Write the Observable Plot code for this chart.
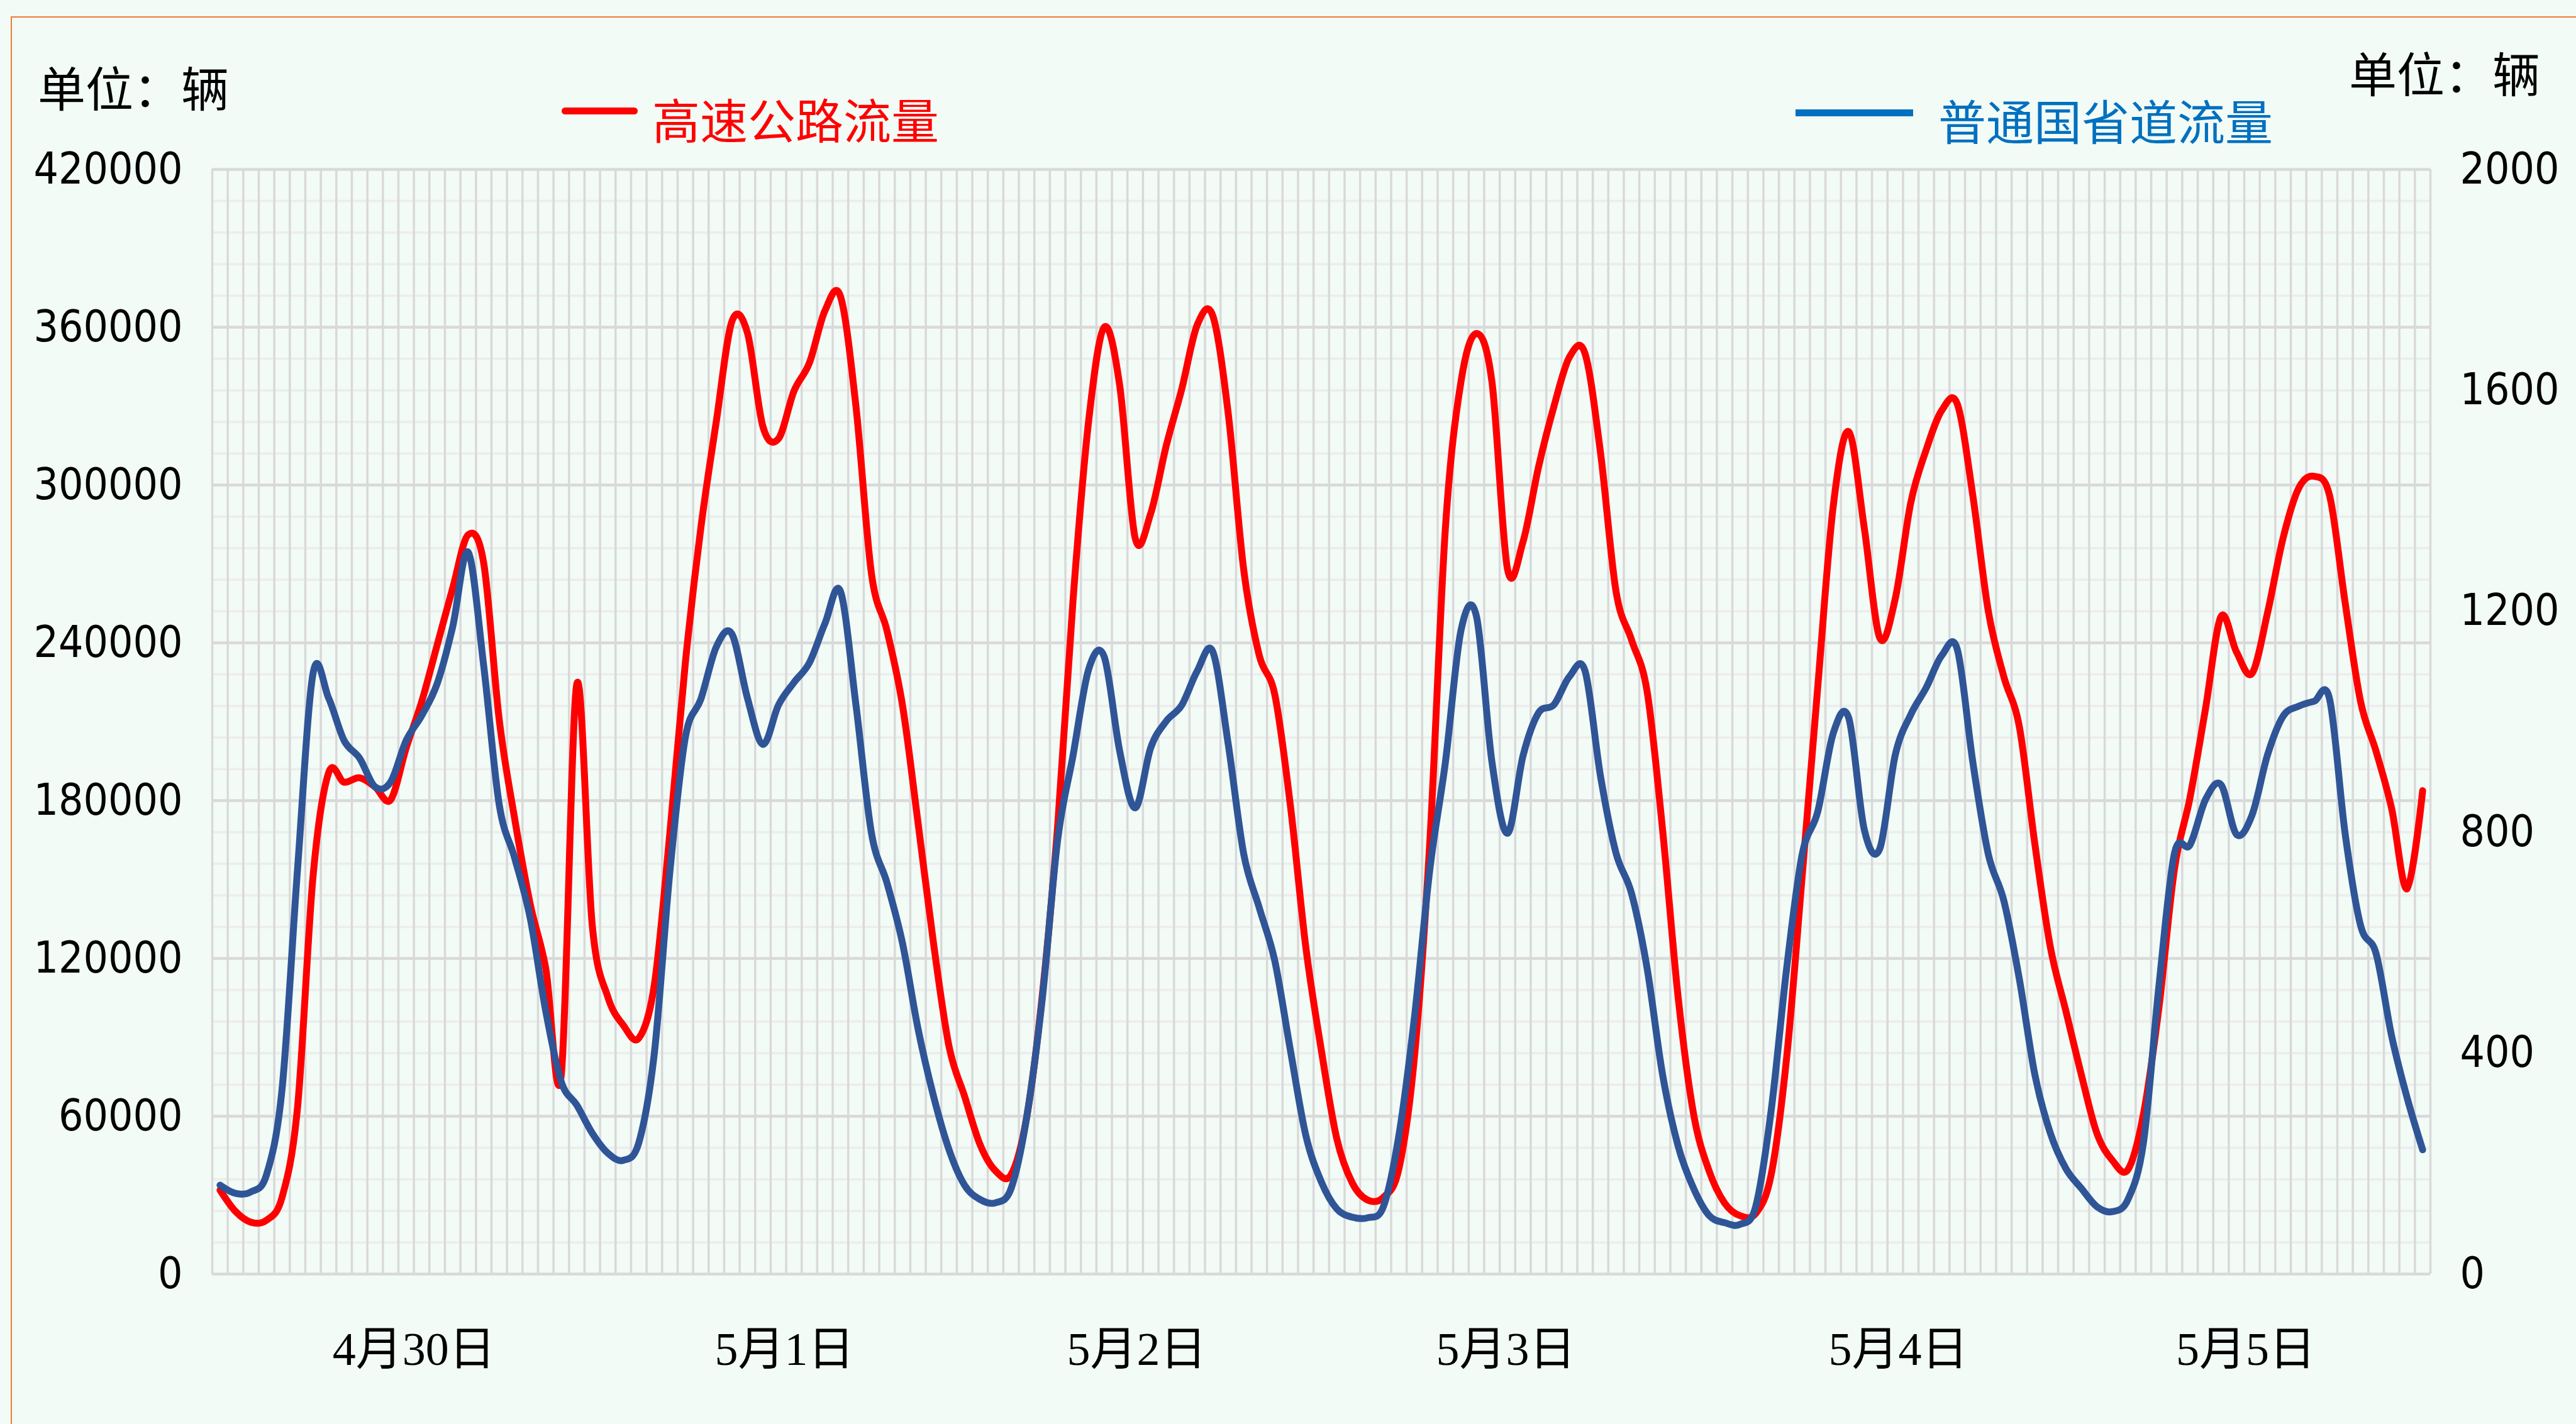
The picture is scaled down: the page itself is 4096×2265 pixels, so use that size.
<!DOCTYPE html>
<html>
<head>
<meta charset="utf-8">
<script src="https://cdn.jsdelivr.net/npm/d3@7"></script>
<script src="https://cdn.jsdelivr.net/npm/@observablehq/plot@0.6"></script>
<style>
  html, body { margin: 0; padding: 0; }
  body { width: 4096px; height: 2265px; background: #f2fbf6; position: relative; overflow: hidden; }
  #frame { position: absolute; left: 17px; top: 26px; width: 4200px; height: 2400px; border-top: 2px solid #ed7d31; border-left: 2px solid #ed7d31; box-sizing: border-box; }
  #chart { position: absolute; left: 0; top: 0; }
  .cjk { position: absolute; font-family: "Noto Sans CJK SC", sans-serif; font-size: 76px; line-height: 1; white-space: nowrap; }
  .swatch { position: absolute; height: 11px; }
</style>
</head>
<body>
<div id="frame"></div>
<div id="chart"></div>
<div class="cjk" style="left:60px; top:99px; color:#000;">单位：辆</div>
<div class="cjk" style="left:3735px; top:76px; color:#000;">单位：辆</div>
<div class="swatch" style="left:893px; top:171px; width:121px; background:#ff0000; border-radius:6px;"></div>
<div class="cjk" style="left:1037px; top:150px; color:#ff0000;">高速公路流量</div>
<div class="swatch" style="left:2855px; top:174px; width:187px; background:#0070c0;"></div>
<div class="cjk" style="left:3082px; top:152px; color:#0070c0;">普通国省道流量</div>
<script>
// Hourly traffic, 4月30日 00:00 onward (143 hours)
const highway = [
  31900, 23800, 19700, 20500, 29200, 63500, 151400, 190600, 187000, 188700,
  185200, 180300, 200000, 217600, 239200, 260800, 281100, 270300, 210800, 173000,
  140600, 116200, 75700, 224300, 132400, 105400, 94600, 89700, 110000, 167600,
  232500, 283800, 324400, 362200, 357900, 322200, 317600, 335700, 346500, 366300,
  371700, 329800, 266200, 244600, 216200, 171600, 125700, 86500, 67600, 49200,
  39200, 37800, 59500, 105400, 170300, 256800, 324400, 360000, 337900, 279800,
  289200, 314900, 336500, 360900, 364400, 327100, 267600, 235200, 220300, 178400,
  124300, 85100, 51400, 34600, 28100, 29200, 40000, 82400, 164900, 283800,
  339200, 357600, 339200, 268100, 278400, 306800, 330000, 348700, 350000, 312200,
  259500, 241100, 221600, 168900, 105400, 60800, 39200, 27000, 22200, 23000,
  37800, 82400, 151400, 223000, 291900, 320300, 283800, 241900, 256800, 293300,
  313500, 328400, 330800, 296000, 252000, 227100, 208100, 163500, 124300, 100000,
  75700, 53500, 43200, 39700, 60800, 101400, 154100, 181100, 214900, 250000,
  236500, 228400, 251400, 279800, 298700, 303300, 296000, 255400, 217600, 198700,
  177000, 146500, 183800
];
const ordinary = [
  161, 146, 149, 180, 335, 734, 1088, 1043, 966, 934,
  882, 891, 966, 1011, 1069, 1172, 1307, 1101, 850, 753,
  644, 476, 348, 306, 255, 219, 206, 238, 400, 728,
  972, 1041, 1136, 1159, 1043, 959, 1030, 1071, 1107, 1178,
  1236, 1030, 798, 708, 599, 444, 322, 225, 161, 135,
  129, 155, 283, 496, 786, 940, 1095, 1118, 947, 844,
  953, 1001, 1030, 1092, 1127, 959, 760, 663, 567, 406,
  251, 167, 118, 103, 102, 122, 251, 464, 734, 927,
  1165, 1191, 927, 798, 938, 1016, 1031, 1082, 1092, 901,
  762, 689, 554, 361, 232, 155, 106, 93, 90, 122,
  296, 554, 760, 837, 979, 1007, 805, 770, 940, 1013,
  1062, 1120, 1131, 927, 760, 676, 534, 361, 255, 191,
  155, 122, 113, 135, 238, 522, 762, 777, 859, 886,
  796, 831, 940, 1010, 1028, 1037, 1041, 798, 631, 580,
  431, 319, 225
];
const leftTicks = [0, 60000, 120000, 180000, 240000, 300000, 360000, 420000];
const rightTicks = [0, 400, 800, 1200, 1600, 2000];
const dayLabels = ["4月30日", "5月1日", "5月2日", "5月3日", "5月4日", "5月5日"];
const dayLabelHour = [13.0, 36.9, 59.6, 83.4, 108.7, 131.1];

const nHours = highway.length;
const leftMax = leftTicks[leftTicks.length - 1];
const rightMax = rightTicks[rightTicks.length - 1];
const ratio = leftMax / rightMax;

const rows = highway.map((v, i) => ({hour: i + 0.5, hwy: v, road: ordinary[i] * ratio}));
const minorTicks = d3.range(0, leftMax + 1, leftMax / 35).filter(v => Math.round(v) % 60000 !== 0);
const hourEdges = d3.range(0, nHours + 1);
const days = dayLabels.map((t, i) => ({t, x: dayLabelHour[i]}));

const tickFont = '"DejaVu Sans Condensed", "DejaVu Sans", sans-serif';

const chart = Plot.plot({
  width: 4096,
  height: 2265,
  marginLeft: 337,
  marginRight: 232,
  marginTop: 269,
  marginBottom: 239,
  x: {domain: [0, nHours], axis: null},
  y: {domain: [0, leftMax], axis: null},
  style: {background: "transparent", color: "#000", overflow: "visible"},
  marks: [
    Plot.ruleY(minorTicks, {stroke: "#ededed", strokeWidth: 3.7}),
    Plot.ruleX(hourEdges, {stroke: "#d9d9d9", strokeWidth: 3.5}),
    Plot.ruleY(leftTicks, {stroke: "#d9d9d9", strokeWidth: 4.5}),
    Plot.axisY({ticks: leftTicks, anchor: "left", tickSize: 0, tickPadding: 47, label: null,
      fontSize: 69, fontFamily: tickFont, fontStretch: "condensed", fill: "#000", tickFormat: d => String(d)}),
    Plot.axisY({ticks: rightTicks.map(v => v * ratio), anchor: "right", tickSize: 0, tickPadding: 47, label: null,
      fontSize: 69, fontFamily: tickFont, fontStretch: "condensed", fill: "#000", tickFormat: d => String(Math.round(d / ratio))}),
    Plot.line(rows, {x: "hour", y: "hwy", stroke: "#ff0000", strokeWidth: 11, curve: "cardinal", strokeLinecap: "round", strokeLinejoin: "round"}),
    Plot.line(rows, {x: "hour", y: "road", stroke: "#2f5597", strokeWidth: 11, curve: "cardinal", strokeLinecap: "round", strokeLinejoin: "round"}),
    Plot.text(days, {x: "x", text: "t", frameAnchor: "bottom", dy: 121, fontSize: 74,
      fontFamily: '"Liberation Serif", "Noto Sans CJK SC", serif', fill: "#000", lineAnchor: "middle"})
  ]
});
document.getElementById("chart").appendChild(chart);
</script>
</body>
</html>
